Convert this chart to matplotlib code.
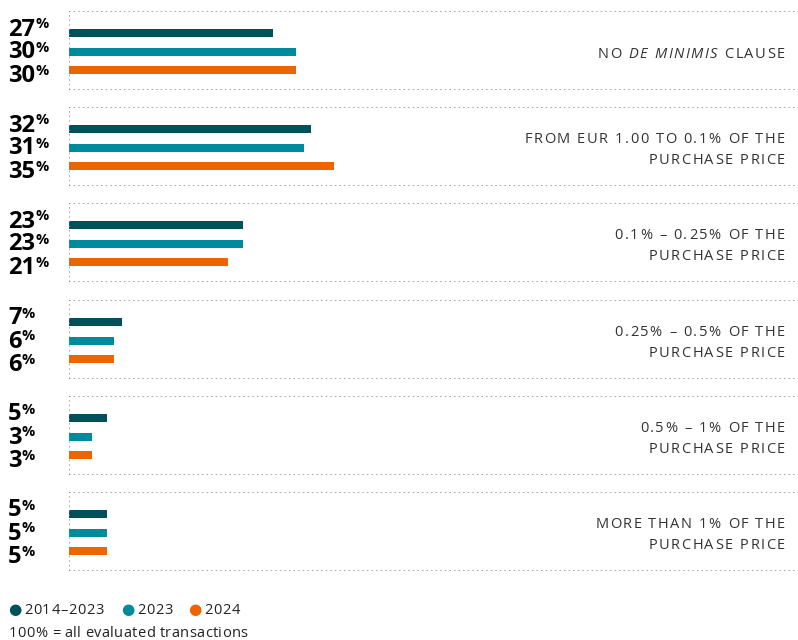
import matplotlib.pyplot as plt

plt.rcParams['font.family'] = ['Open Sans', 'DejaVu Sans']

# labels: text between underscores is set in italics
categories = ["NO _DE MINIMIS_ CLAUSE",
              "FROM EUR 1.00 TO 0.1% OF THE\nPURCHASE PRICE",
              "0.1% – 0.25% OF THE\nPURCHASE PRICE",
              "0.25% – 0.5% OF THE\nPURCHASE PRICE",
              "0.5% – 1% OF THE\nPURCHASE PRICE",
              "MORE THAN 1% OF THE\nPURCHASE PRICE"]
series_names = ["2014–2023", "2023", "2024"]
v_hist = [27, 32, 23, 7, 5, 5]
v_2023 = [30, 31, 23, 6, 3, 5]
v_2024 = [30, 35, 21, 6, 3, 5]
note = "100% = all evaluated transactions"
colors = ["#02505b", "#008b9c", "#ee6400"]

W, H = 798, 640
fig = plt.figure(figsize=(W / 100, H / 100), dpi=100)
renderer = fig.canvas.get_renderer()

_cache = {}


def width_of(s, **kw):
    t = fig.text(0, 0, s, **kw)
    w = t.get_window_extent(renderer).width
    t.remove()
    return w


def advance(ch, **kw):
    key = (ch, tuple(sorted(kw.items())))
    if key not in _cache:
        _cache[key] = width_of("x" + ch + "x", **kw) - width_of("xx", **kw)
    return _cache[key]


def tracked(x_px, y_px, text, size, track, color, ha="left", space=None):
    # draw text char by char with extra letter spacing (pixels)
    chars = []
    italic = False
    for ch in text:
        if ch == "_":
            italic = not italic
            continue
        chars.append((ch, "italic" if italic else "normal"))
    widths = [space if (c == " " and space is not None) else advance(c, fontsize=size, fontstyle=s)
              for c, s in chars]
    total = sum(widths) + track * (len(chars) - 1)
    x = x_px - total if ha == "right" else x_px
    for (c, s), w in zip(chars, widths):
        if c != " ":
            fig.text(x / W, 1 - y_px / H, c, fontsize=size, fontstyle=s, color=color,
                     ha="left", va="baseline")
        x += w + track


left_px = 69
panel_h = 79
panel_tops = [11, 107, 203, 300, 396, 492]
bar_pos = [22, 40.5, 59]
num_base = [24.5, 47.5, 71]
dot = dict(color="#8a8a8a", linestyle=(0, (1, 2)), linewidth=1.1)

for i, top in enumerate(panel_tops):
    ax = fig.add_axes([left_px / W, 1 - (top + panel_h) / H, (W - left_px) / W, panel_h / H])
    ax.set_xlim(0, 96.3)
    ax.set_ylim(panel_h, 0)
    ax.axis("off")
    vals = [v_hist[i], v_2023[i], v_2024[i]]
    ax.barh(bar_pos, vals, height=8, color=colors)
    ax.axhline(0, **dot)
    ax.axhline(panel_h, **dot)
    ax.axvline(0, **dot)

    lines = categories[i].split("\n")
    mid = top + panel_h / 2
    for j, line in enumerate(lines):
        yb = mid + 7 + (j - (len(lines) - 1) / 2) * 21.5
        tracked(785, yb, line, 10.5, 1.5, "#333333", ha="right", space=4.0)

    # value labels on the left: big number + small raised percent sign
    for k, v in enumerate(vals):
        yb = 1 - (top + num_base[k]) / H
        t = fig.text(8 / W, yb, str(v), fontsize=17, fontweight="bold", va="baseline", ha="left")
        bb = t.get_window_extent(renderer)
        fig.text(bb.x1 / W, yb + 18 / H, "%", fontsize=10.5, fontweight="bold",
                 va="top", ha="left")

# legend
lx = [15, 128, 195]
for name, c, x in zip(series_names, colors, lx):
    fig.text(x / W, 1 - 609 / H, "\u25CF", color=c, fontsize=11, va="center", ha="center",
             family=["DejaVu Sans"])
    tracked(x + 9, 614, name, 10.5, 0.7, "#222222")
tracked(9, 637, note, 10.5, 0.35, "#222222")

fig.savefig("out.png", dpi=100)
